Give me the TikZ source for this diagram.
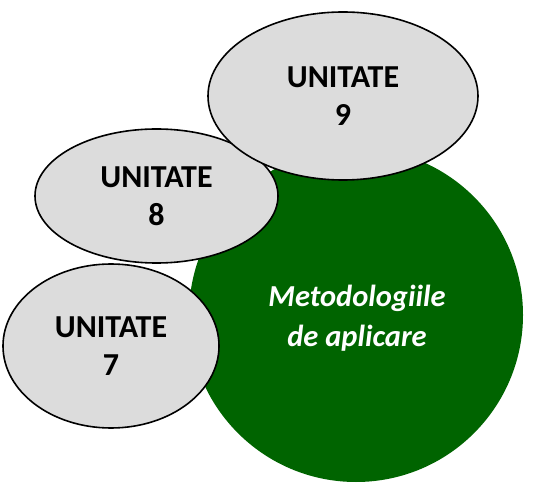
\documentclass[tikz,border=0pt]{standalone}
\usepackage{fontspec}
\setmainfont{Carlito}
\usetikzlibrary{shapes.geometric}
\definecolor{ellgrey}{HTML}{DCDCDC}
\definecolor{bigreen}{HTML}{006400}
\tikzset{
  unit/.style={ellipse, draw=black, line width=1.6pt, fill=ellgrey, inner sep=0pt,
    align=center, font=\fontsize{32}{38}\selectfont\bfseries, text=black},
  core/.style={circle, fill=bigreen, inner sep=0pt, minimum size=334pt},
  coretext/.style={text=white, align=center, font=\fontsize{30.5}{40}\selectfont\bfseries\itshape}
}
\begin{document}
\begin{tikzpicture}[x=1pt,y=1pt]
\useasboundingbox (0,0) rectangle (535,482);
\node[core] (m) at (356,167) {};
\node[coretext] (mt) at (357,164) {Metodologiile\\de aplicare};
\node[unit, minimum width=216pt, minimum height=164pt] (u7) at (111,136) {UNITATE\\7};
\node[unit, minimum width=243pt, minimum height=134pt] (u8) at (156.5,286) {UNITATE\\8};
\node[unit, minimum width=270pt, minimum height=168pt] (u9) at (343,386) {UNITATE\\9};
\end{tikzpicture}
\end{document}
